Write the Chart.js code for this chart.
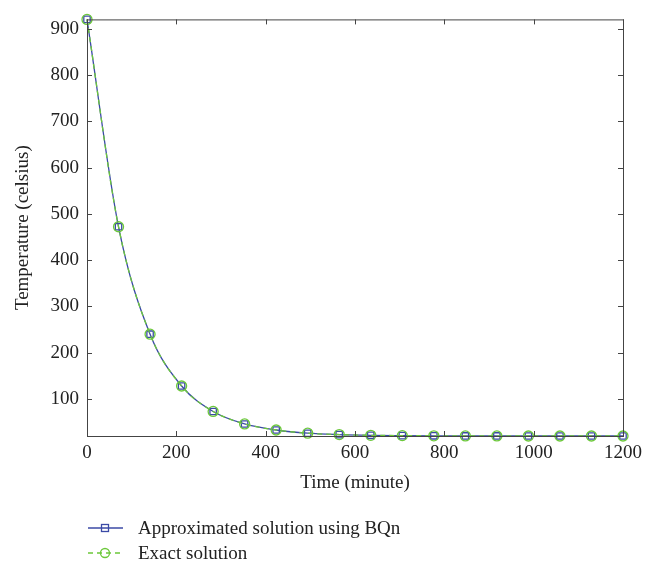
<!DOCTYPE html>
<html>
<head>
<meta charset="utf-8">
<script src="https://cdn.jsdelivr.net/npm/chart.js@4/dist/chart.umd.min.js"></script>
<style>
  body { margin: 0; background: #fff; }
  #wrap { position: relative; width: 656px; height: 564px; }
  canvas { position: absolute; left: 0; top: 0; }
  .leg { position: absolute; left: 86px; font: 19px "Liberation Serif", serif; color: #222; display: flex; align-items: center; }
  .leg svg { margin-right: 14px; }
</style>
</head>
<body>
<div id="wrap">
  <canvas id="myChart" width="656" height="564"></canvas>
  <div class="leg" style="top:517px">
    <svg width="38" height="14"><line x1="2" y1="7" x2="37" y2="7" stroke="#3b4aa6" stroke-width="1.3"/><rect x="15.5" y="3.5" width="7" height="7" fill="none" stroke="#3b4aa6" stroke-width="1.3"/></svg>
    <span>Approximated solution using BQn</span>
  </div>
  <div class="leg" style="top:542px">
    <svg width="38" height="14"><line x1="2" y1="7" x2="37" y2="7" stroke="#6cc83a" stroke-width="1.3" stroke-dasharray="5,4"/><circle cx="19" cy="7" r="4.5" fill="none" stroke="#6cc83a" stroke-width="1.3"/></svg>
    <span>Exact solution</span>
  </div>
</div>
<script>
// time points (minute)
const times = [0, 70.6, 141.2, 211.8, 282.4, 352.9, 423.5, 494.1, 564.7, 635.3, 705.9, 776.5, 847.1, 917.6, 988.2, 1058.8, 1129.4, 1200];
// temperatures
const approxTemp = [920, 472, 240, 128, 73, 46, 33, 26, 23, 21.5, 20.8, 20.4, 20.2, 20.1, 20, 20, 20, 20];
const exactTemp = [920, 472, 240, 128, 73, 46, 33, 26, 23, 21.5, 20.8, 20.4, 20.2, 20.1, 20, 20, 20, 20];
const xTicks = [0, 200, 400, 600, 800, 1000, 1200];
const yTicks = [100, 200, 300, 400, 500, 600, 700, 800, 900];

const blue = '#3b4aa6';
const green = '#6cc83a';
const axisColor = '#444';
const font = { family: '"Liberation Serif", serif', size: 19 };

function toPoints(xs, ys) {
    return xs.map((x, i) => ({ x: x, y: ys[i] }));
}

// box round the plot and inward ticks, like the original
const boxPlugin = {
    id: 'box',
    afterDatasetsDraw(chart) {
        const ctx = chart.ctx;
        const a = chart.chartArea;
        const xs = chart.scales.x, ys = chart.scales.y;
        ctx.save();
        ctx.strokeStyle = axisColor;
        ctx.lineWidth = 1;
        ctx.strokeRect(a.left + 0.5, a.top + 0.5, a.right - a.left, a.bottom - a.top);
        ctx.beginPath();
        xTicks.forEach(v => {
            const px = Math.round(xs.getPixelForValue(v)) + 0.5;
            ctx.moveTo(px, a.bottom); ctx.lineTo(px, a.bottom - 5);
            ctx.moveTo(px, a.top); ctx.lineTo(px, a.top + 5);
        });
        yTicks.forEach(v => {
            const py = Math.round(ys.getPixelForValue(v)) + 0.5;
            ctx.moveTo(a.left, py); ctx.lineTo(a.left + 5, py);
            ctx.moveTo(a.right, py); ctx.lineTo(a.right - 5, py);
        });
        ctx.stroke();
        ctx.restore();
    }
};

const ctx = document.getElementById('myChart').getContext('2d');
const myChart = new Chart(ctx, {
    type: 'line',
    data: {
        datasets: [
            {
                label: 'Approximated solution using BQn',
                data: toPoints(times, approxTemp),
                borderColor: blue,
                borderWidth: 1.3,
                pointStyle: 'rect',
                pointRadius: 4.5,
                pointBorderColor: blue,
                pointBackgroundColor: 'rgba(0,0,0,0)',
                pointBorderWidth: 1.3,
                cubicInterpolationMode: 'monotone',
                clip: false,
                order: 1
            },
            {
                label: 'Exact solution',
                data: toPoints(times, exactTemp),
                borderColor: green,
                borderWidth: 1.3,
                borderDash: [5, 4],
                pointStyle: 'circle',
                pointRadius: 5,
                pointBorderColor: green,
                pointBackgroundColor: 'rgba(0,0,0,0)',
                pointBorderWidth: 1.3,
                cubicInterpolationMode: 'monotone',
                clip: false,
                order: 0
            }
        ]
    },
    options: {
        responsive: false,
        animation: false,
        layout: { padding: { left: 8, top: 12, right: 33, bottom: 66 } },
        plugins: { legend: { display: false }, tooltip: { enabled: false } },
        scales: {
            x: {
                type: 'linear',
                min: 0,
                max: 1200,
                afterBuildTicks: s => { s.ticks = xTicks.map(v => ({ value: v })); },
                afterFit: s => { s.height = 62; },
                grid: { display: false, drawTicks: false },
                border: { display: false },
                ticks: { color: '#222', font: font, padding: 6, maxRotation: 0, callback: v => String(v) },
                title: { display: true, text: 'Time (minute)', color: '#222', font: font, padding: { top: 4 } }
            },
            y: {
                type: 'linear',
                min: 20,
                max: 920,
                afterBuildTicks: s => { s.ticks = yTicks.map(v => ({ value: v })); },
                afterFit: s => { s.width = 79; },
                grid: { display: false, drawTicks: false },
                border: { display: false },
                ticks: { color: '#222', font: font, padding: 8, callback: v => String(v) },
                title: { display: true, text: 'Temperature (celsius)', color: '#222', font: font, padding: { bottom: 0 } }
            }
        }
    },
    plugins: [boxPlugin]
});
</script>
</body>
</html>
